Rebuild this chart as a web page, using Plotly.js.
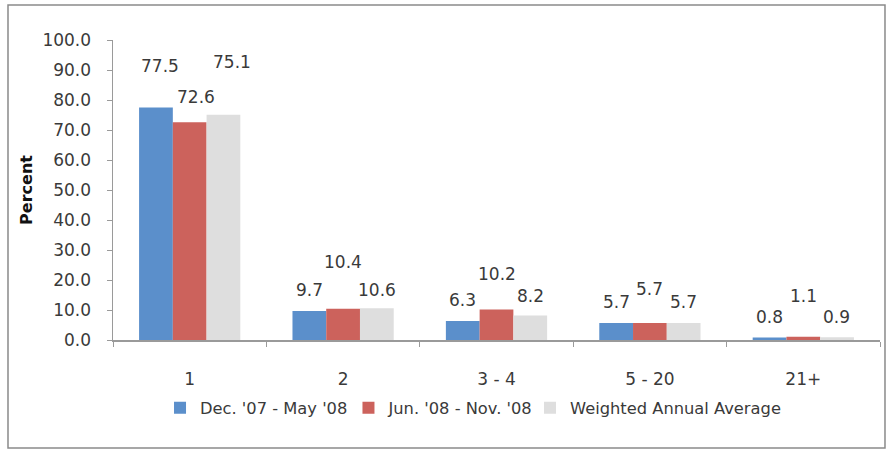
<!DOCTYPE html>
<html>
<head>
<meta charset="utf-8">
<script src="https://cdn.plot.ly/plotly-3.0.1.min.js"></script>
<style>html,body{margin:0;padding:0;background:#fff;}#chart{width:888px;height:452px;}</style>
</head>
<body>
<div id="chart"></div>
<script>
const categories = ["1", "2", "3 - 4", "5 - 20", "21+"];
const seriesNames = ["Dec. '07 - May '08", "Jun. '08 - Nov. '08", "Weighted Annual Average"];
const decMay = [77.5, 9.7, 6.3, 5.7, 0.8];
const junNov = [72.6, 10.4, 10.2, 5.7, 1.1];
const weighted = [75.1, 10.6, 8.2, 5.7, 0.9];
const yTicks = [0, 10, 20, 30, 40, 50, 60, 70, 80, 90, 100];

// styling: colours and label placement (Excel-style staggered labels)
const colors = ["#5B8FCB", "#CC625C", "#DEDEDE"];
const labelLift = [
  [42, 21, 21, 21, 21],
  [25, 47, 35, 34, 41],
  [53, 18, 19, 21, 20]
];
const labelNudge = [
  [4, 0, 0, 0, 0],
  [6, 0, 0, 0, 0],
  [9, 0, 0, 0, 0]
];
const legendIds = ["legend", "legend2", "legend3"];
const legendX = [0.0613, 0.307, 0.5437];
const allSeries = [decMay, junNov, weighted];

const fam = "'DejaVu Sans', sans-serif";
const font = {family: fam, size: 17, color: "#3a3a3a"};
const legendFont = {family: fam, size: 16.3, color: "#3a3a3a"};

const traces = allSeries.map((vals, i) => ({
  type: "bar",
  name: seriesNames[i],
  x: categories,
  y: vals,
  marker: {color: colors[i]},
  legend: legendIds[i],
  hoverinfo: "none"
}));

const annotations = [];
allSeries.forEach((vals, i) => {
  vals.forEach((v, j) => {
    annotations.push({
      x: j, y: v, xref: "x", yref: "y",
      text: v.toFixed(1), showarrow: false,
      xshift: (i - 1) * 33.6 + labelNudge[i][j], yshift: labelLift[i][j],
      font: font
    });
  });
});

const layout = {
  width: 888, height: 452,
  margin: {l: 113, r: 8, t: 40, b: 112},
  paper_bgcolor: "#fff", plot_bgcolor: "#fff",
  font: font,
  barmode: "group",
  bargap: 0.34, bargroupgap: 0,
  showlegend: true,
  xaxis: {
    type: "category", showline: true, linecolor: "#9a9a9a", linewidth: 1.5,
    ticks: "outside", tickson: "boundaries", ticklen: 5, tickcolor: "#9a9a9a",
    tickfont: font, showgrid: false, zeroline: false, fixedrange: true,
    ticklabelstandoff: 23
  },
  yaxis: {
    range: [0, 100], tickvals: yTicks, tickformat: ".1f",
    showline: true, linecolor: "#9a9a9a", linewidth: 1.5,
    ticks: "outside", ticklen: 5, tickcolor: "#9a9a9a",
    tickfont: font, showgrid: false, zeroline: false, ticklabelstandoff: 12,
    title: {text: "<b>Percent</b>", font: {family: fam, size: 16, color: "#111"}, standoff: 6}
  },
  annotations: annotations,
  shapes: [{
    type: "rect", xref: "paper", yref: "paper",
    x0: -0.1369, x1: 1.0065, y0: -0.36, y1: 1.1167,
    line: {color: "#8a8a8a", width: 1.5}
  }]
};
legendIds.forEach((id, i) => {
  layout[id] = {orientation: "h", x: legendX[i], xanchor: "left", y: -0.227, yanchor: "middle",
                font: legendFont, itemwidth: 30, bgcolor: "rgba(0,0,0,0)"};
});

Plotly.newPlot("chart", traces, layout, {displayModeBar: false, staticPlot: true});
</script>
</body>
</html>
